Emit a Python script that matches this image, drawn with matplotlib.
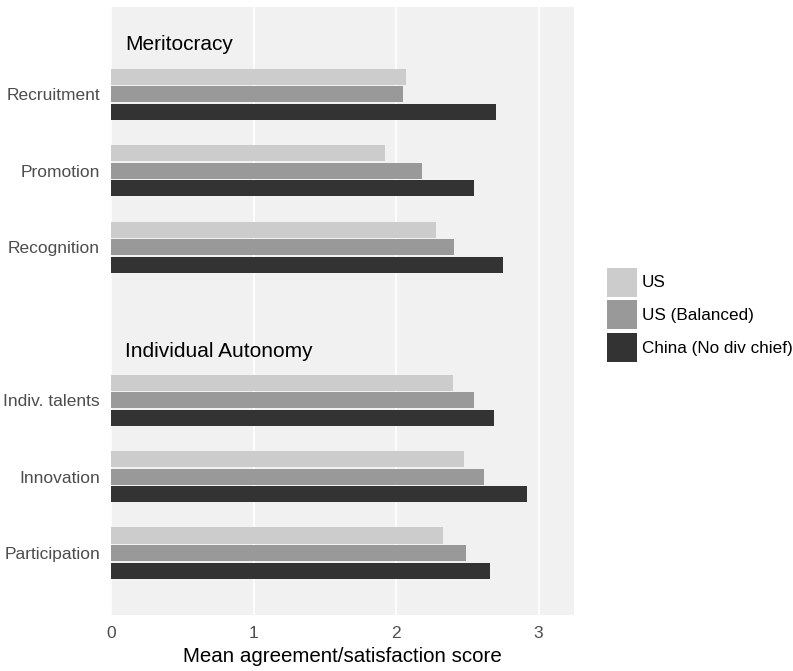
import numpy as np
import matplotlib.pyplot as plt
from matplotlib.patches import Patch

plt.rcParams['font.family'] = ['Liberation Sans', 'DejaVu Sans']

categories = ["Recruitment", "Promotion", "Recognition",
              "Indiv. talents", "Innovation", "Participation"]
positions = [0, 1, 2, 4, 5, 6]  # slot 3 left empty between the two blocks
headings = ["Meritocracy", "Individual Autonomy"]
heading_pos = [-0.65, 3.36]

series = ["US", "US (Balanced)", "China (No div chief)"]
us = [2.07, 1.92, 2.28, 2.40, 2.48, 2.33]
us_bal = [2.05, 2.18, 2.41, 2.55, 2.62, 2.49]
china = [2.70, 2.55, 2.75, 2.69, 2.92, 2.66]
colors = ["#cccccc", "#999999", "#333333"]

fig = plt.figure(figsize=(7.93, 6.71), dpi=100)
ax = fig.add_axes([0.14, 0.0835, 0.584, 0.906])
ax.set_facecolor("#f1f1f1")

pos = np.array(positions, dtype=float)
step = 0.229
for k, (vals, col) in enumerate(zip([us, us_bal, china], colors)):
    ax.barh(pos + (k - 1) * step, vals, height=0.21, color=col, zorder=2)

for h, p in zip(headings, heading_pos):
    ax.text(0.1, p, h, fontsize=15, va="center", ha="left", color="black")

ax.set_xlim(0, 3.25)
ax.set_ylim(6.81, -1.14)
ax.set_xticks([0, 1, 2, 3])
ax.set_yticks(pos)
ax.set_yticklabels(categories)
ax.tick_params(length=0, labelsize=12.5, labelcolor="#4d4d4d")
ax.tick_params(axis="y", pad=8)
ax.tick_params(axis="x", pad=8)
ax.grid(axis="x", color="white", linewidth=1.2, zorder=1)
ax.set_axisbelow(True)
for s in ax.spines.values():
    s.set_visible(False)
ax.set_xlabel("Mean agreement/satisfaction score", fontsize=14.8, labelpad=4)

handles = [Patch(facecolor=c, edgecolor="none") for c in colors]
fig.legend(handles, series, loc="center left", bbox_to_anchor=(0.765, 0.531),
           frameon=False, fontsize=12.3, handlelength=1.75, handleheight=2.25,
           labelspacing=0.2, handletextpad=0.3, borderpad=0, borderaxespad=0)

fig.savefig("out.png", dpi=100)
